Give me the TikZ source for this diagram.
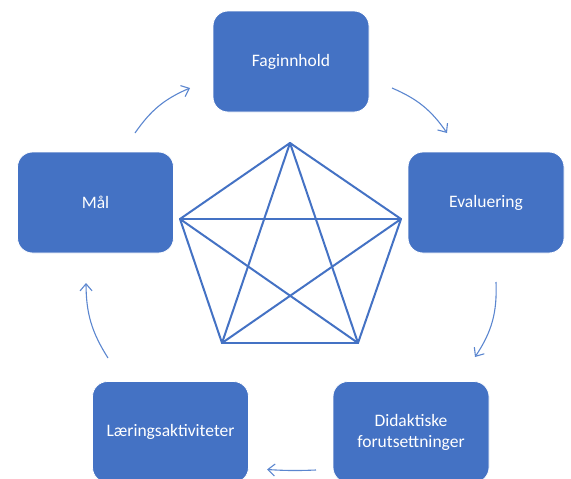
\documentclass[tikz,border=0pt]{standalone}
\usepackage{fontspec}
\setmainfont{Carlito}
\usetikzlibrary{arrows.meta}
\definecolor{boxblue}{HTML}{4472C4}
\definecolor{arcblue}{HTML}{5B86CF}

\tikzset{
  stepbox/.style={rectangle, rounded corners=15pt, fill=boxblue, draw=white, line width=0.8pt,
    minimum width=156pt, minimum height=101pt, text=white, align=center,
    font=\fontsize{17.5}{21}\selectfont},
  cycle/.style={arcblue, line width=1.1pt, bend left=#1,
    -{Straight Barb[length=7pt,width=12pt,line width=1.1pt]}},
  star/.style={boxblue, line width=2pt, line cap=round}
}

\begin{document}
\begin{tikzpicture}[x=1pt,y=-1pt]
  \useasboundingbox (0,0) rectangle (571,479);
  \clip (0,0) rectangle (571,479);

  % the five boxes
  \node[stepbox] (fag)  at (291,61.5)  {Faginnhold};
  \node[stepbox] (eval) at (486,202.5) {Evaluering};
  \node[stepbox] (did)  at (411,432)   {Didaktiske\\forutsettninger};
  \node[stepbox] (lar)  at (170.5,432) {Læringsaktiviteter};
  \node[stepbox] (mal)  at (95.5,202.5) {Mål};

  % pentagon with all diagonals
  \coordinate (p1) at (290,143);
  \coordinate (p2) at (401,219);
  \coordinate (p3) at (358,343);
  \coordinate (p4) at (222,343);
  \coordinate (p5) at (180,219);
  \foreach \a/\b in {1/2,2/3,3/4,4/5,5/1,1/3,1/4,2/4,2/5,3/5}{
    \draw[star] (p\a) -- (p\b);
  }

  % arrows between the boxes
  \coordinate (a1) at (135,133);  \coordinate (b1) at (190,88);
  \coordinate (a2) at (392,88);   \coordinate (b2) at (447,133);
  \coordinate (a3) at (496,282);  \coordinate (b3) at (475,357);
  \coordinate (a4) at (316,470);  \coordinate (b4) at (267,469.5);
  \coordinate (a5) at (108,358);  \coordinate (b5) at (86,283);
  \draw[cycle=16] (a1) to (b1);
  \draw[cycle=16] (a2) to (b2);
  \draw[cycle=18] (a3) to (b3);
  \draw[cycle=3]  (a4) to (b4);
  \draw[cycle=16] (a5) to (b5);
\end{tikzpicture}
\end{document}
